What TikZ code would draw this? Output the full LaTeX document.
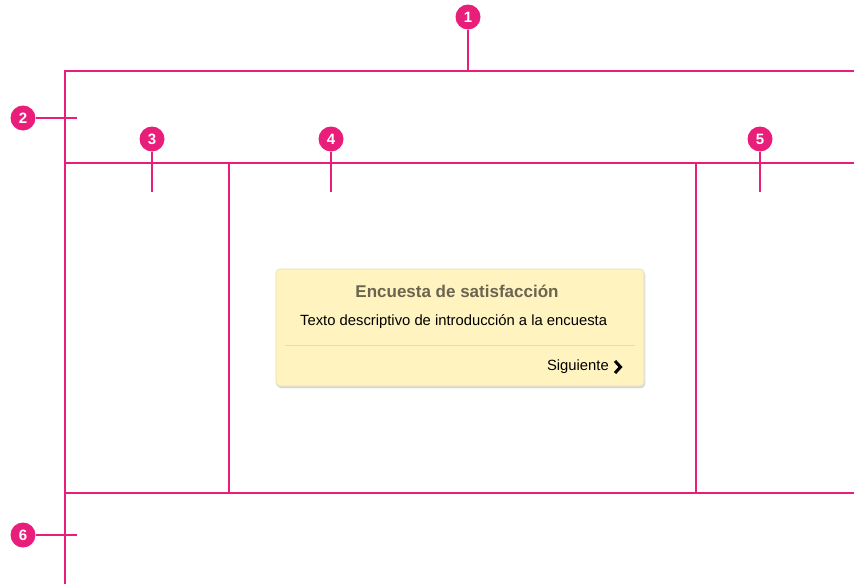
\documentclass[tikz,border=0pt]{standalone}
\usepackage{fontspec}
\setmainfont{Liberation Sans}
\usetikzlibrary{shadows,calc}
\definecolor{pinkc}{HTML}{E91E7A}
\definecolor{cardfill}{HTML}{FFF4BF}
\definecolor{cardline}{HTML}{E8DDB0}
\definecolor{titlec}{HTML}{6B6450}
\tikzset{
  frame/.style={draw=pinkc, line width=1.8pt},
  marker/.style={circle, fill=pinkc, minimum size=25pt, inner sep=0pt, text=white, font=\fontsize{15}{15}\selectfont\bfseries},
  lead/.style={draw=pinkc, line width=1.6pt},
}
\begin{document}
\begin{tikzpicture}[x=1pt,y=-1pt]
\useasboundingbox (0,0) rectangle (854,584);
% frame coordinates
\coordinate (tl) at (65,71);
\coordinate (tr) at (854,71);
\coordinate (bl) at (65,584);
\coordinate (h1l) at (65,163);
\coordinate (h1r) at (854,163);
\coordinate (h2l) at (65,493);
\coordinate (h2r) at (854,493);
\coordinate (v1t) at (229,163);
\coordinate (v1b) at (229,493);
\coordinate (v2t) at (696,163);
\coordinate (v2b) at (696,493);
\draw[frame] (tr) -- (tl) -- (bl);
\draw[frame] (h1l) -- (h1r);
\draw[frame] (h2l) -- (h2r);
\draw[frame] (v1t) -- (v1b);
\draw[frame] (v2t) -- (v2b);
% markers
\node[marker] (m1) at (468,17) {1};
\node[marker] (m2) at (23,118) {2};
\node[marker] (m3) at (152,139) {3};
\node[marker] (m4) at (331,139) {4};
\node[marker] (m5) at (760,139) {5};
\node[marker] (m6) at (23,535) {6};
\coordinate (e1) at (468,71);
\coordinate (e2) at (77,118);
\coordinate (e3) at (152,192);
\coordinate (e4) at (331,192);
\coordinate (e5) at (760,192);
\coordinate (e6) at (77,535);
\draw[lead] (m1) -- (e1);
\draw[lead] (m2) -- (e2);
\draw[lead] (m3) -- (e3);
\draw[lead] (m4) -- (e4);
\draw[lead] (m5) -- (e5);
\draw[lead] (m6) -- (e6);
% card
\fill[black!25, rounded corners=4pt] (277,271) rectangle (645,388);
\fill[black!12, rounded corners=4pt] (276,270) rectangle (645,387.5);
\node[draw=cardline, line width=0.6pt, fill=cardfill, rounded corners=4pt, minimum width=368pt, minimum height=117pt, inner sep=0pt] (card) at (460,327.5) {};
\node[font=\fontsize{17}{17}\selectfont\bfseries, text=titlec] (title) at (457,291) {Encuesta de satisfacción};
\node[font=\fontsize{14.8}{15}\selectfont, anchor=west, inner sep=0pt] (desc) at (300,322) {Texto descriptivo de introducción a la encuesta};
\coordinate (sepl) at (285,345);
\coordinate (sepr) at (635,345);
\draw[cardline, line width=0.9pt] (sepl) -- (sepr);
\node[font=\fontsize{14.8}{15}\selectfont, anchor=east, inner sep=0pt] (next) at (609,367) {Siguiente};
\coordinate (chev) at (618,367);
\draw[line width=3pt, line cap=butt, line join=miter] ($(chev)+(-3,-6)$) -- ($(chev)+(2.5,0)$) -- ($(chev)+(-3,6)$);
\end{tikzpicture}
\end{document}
